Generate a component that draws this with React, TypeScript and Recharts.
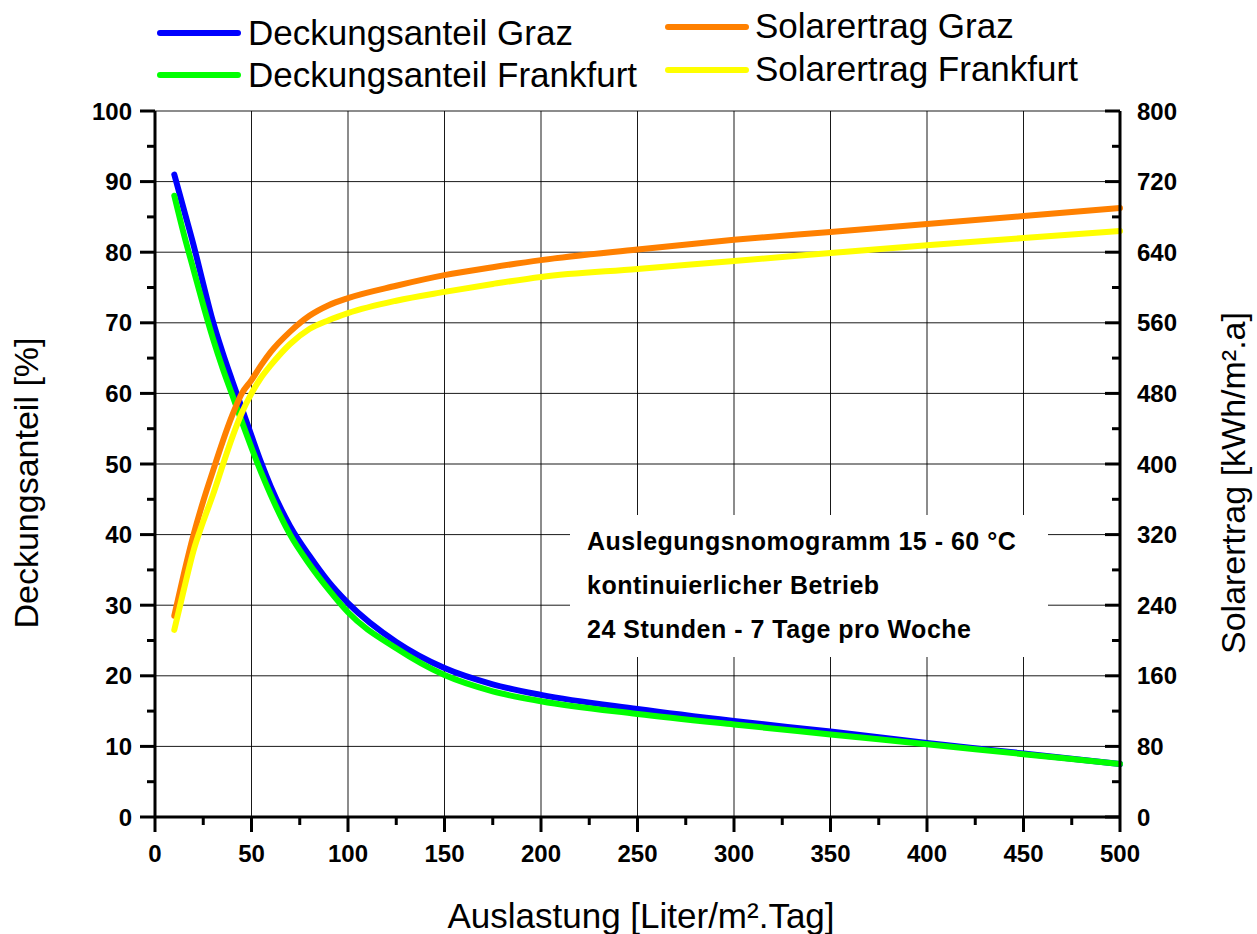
import React from 'react';
import { LineChart, Line, XAxis, YAxis, CartesianGrid } from 'recharts';

// Auslastung [Liter/m².Tag]
const xValues = [10, 15, 20, 25, 30, 35, 40, 45, 50, 55, 60, 70, 80, 90, 100, 125, 150, 175, 200, 250, 300, 350, 400, 450, 500];
// Deckungsanteil [%]
const deckungGraz = [91, 86, 81, 75.5, 70.2, 65.8, 61.8, 57.9, 54, 50.2, 46.8, 41.2, 37, 33.3, 30.3, 24.8, 21.1, 18.8, 17.3, 15.3, 13.6, 12.1, 10.5, 9.0, 7.5];
const deckungFrankfurt = [88, 82.5, 77.5, 72.5, 67.8, 63.6, 59.8, 56, 52.3, 48.8, 45.6, 40, 35.8, 32.2, 29, 23.9, 20.1, 17.8, 16.4, 14.6, 13.1, 11.7, 10.3, 8.9, 7.5];
// Solarertrag [kWh/m².a]
const solarGraz = [228, 276, 320, 358, 392, 425, 455, 480, 495, 512, 527, 550, 568, 580, 588, 602, 614, 623, 631, 643, 654, 663, 672, 681, 690];
const solarFrankfurt = [212, 258, 302, 335, 365, 398, 430, 458, 480, 498, 512, 536, 553, 563, 571, 585, 595, 604, 612, 621, 630, 639, 648, 656, 664];

const xTicks = [0, 25, 50, 75, 100, 125, 150, 175, 200, 225, 250, 275, 300, 325, 350, 375, 400, 425, 450, 475, 500];
const xMajor = [0, 50, 100, 150, 200, 250, 300, 350, 400, 450, 500];
const leftTicks = [0, 5, 10, 15, 20, 25, 30, 35, 40, 45, 50, 55, 60, 65, 70, 75, 80, 85, 90, 95, 100];
const leftMajor = [0, 10, 20, 30, 40, 50, 60, 70, 80, 90, 100];
const rightTicks = [0, 40, 80, 120, 160, 200, 240, 280, 320, 360, 400, 440, 480, 520, 560, 600, 640, 680, 720, 760, 800];

const seriesNames = ['Deckungsanteil Graz', 'Deckungsanteil Frankfurt', 'Solarertrag Graz', 'Solarertrag Frankfurt'];
const seriesColors = ['#0000ff', '#00ff00', '#ff8000', '#ffff00'];
const noteLines = ['Auslegungsnomogramm 15 - 60 °C', 'kontinuierlicher Betrieb', '24 Stunden - 7 Tage pro Woche'];

const data = xValues.map((x, i) => ({
  x,
  dg: deckungGraz[i],
  df: deckungFrankfurt[i],
  sg: solarGraz[i],
  sf: solarFrankfurt[i],
}));

const FONT = '"Liberation Sans", Arial, sans-serif';

const LeftTick = (props: any) => {
  const { x, y, payload } = props;
  const v = payload.value;
  const major = v % 10 === 0;
  return (
    <g>
      <line x1={x - (major ? 15 : 8)} x2={x} y1={y} y2={y} stroke="#000" strokeWidth={3} />
      {major && (
        <text x={x - 23} y={y + 8.5} textAnchor="end" fontFamily={FONT} fontWeight="bold" fontSize={24} fill="#000">
          {v}
        </text>
      )}
    </g>
  );
};

const RightTick = (props: any) => {
  const { x, y, payload } = props;
  const v = payload.value;
  const major = v % 80 === 0;
  return (
    <g>
      <line x1={x - (major ? 15 : 8)} x2={x} y1={y} y2={y} stroke="#000" strokeWidth={3} />
      {major && (
        <text x={x + 17} y={y + 8.5} textAnchor="start" fontFamily={FONT} fontWeight="bold" fontSize={24} fill="#000">
          {v}
        </text>
      )}
    </g>
  );
};

const BottomTick = (props: any) => {
  const { x, y, payload } = props;
  const v = payload.value;
  const major = v % 50 === 0;
  return (
    <g>
      <line x1={x} x2={x} y1={y} y2={y + (major ? 15 : 8)} stroke="#000" strokeWidth={3} />
      {major && (
        <text x={x} y={y + 45} textAnchor="middle" fontFamily={FONT} fontWeight="bold" fontSize={24} fill="#000">
          {v}
        </text>
      )}
    </g>
  );
};

const legendItems = [
  { x: 160, y: 33, tx: 248, ty: 45 },
  { x: 160, y: 75, tx: 248, ty: 87 },
  { x: 668, y: 27, tx: 755, ty: 38 },
  { x: 668, y: 70, tx: 755, ty: 81 },
];

export default function App() {
  return (
    <div style={{ position: 'absolute', left: 0, top: 0, width: 1257, height: 934, overflow: 'hidden', background: '#fff' }}>
      <LineChart
        width={1257}
        height={934}
        data={data}
        margin={{ top: 111, right: 77, bottom: 77, left: 95 }}
      >
        <CartesianGrid
          yAxisId="left"
          horizontalValues={leftMajor}
          verticalValues={xMajor}
          stroke="#000"
          strokeWidth={1}
          strokeOpacity={0.9}
        />
        <XAxis
          dataKey="x"
          type="number"
          domain={[0, 500]}
          ticks={xTicks}
          interval={0}
          height={40}
          tickSize={0}
          tickMargin={0}
          tickLine={false}
          tick={<BottomTick />}
          axisLine={{ stroke: '#000', strokeWidth: 3 }}
        />
        <YAxis
          yAxisId="left"
          orientation="left"
          type="number"
          domain={[0, 100]}
          ticks={leftTicks}
          interval={0}
          width={60}
          tickSize={0}
          tickMargin={0}
          tickLine={false}
          tick={<LeftTick />}
          axisLine={{ stroke: '#000', strokeWidth: 3 }}
        />
        <YAxis
          yAxisId="right"
          orientation="right"
          type="number"
          domain={[0, 800]}
          ticks={rightTicks}
          interval={0}
          width={60}
          tickSize={0}
          tickMargin={0}
          tickLine={false}
          tick={<RightTick />}
          axisLine={{ stroke: '#000', strokeWidth: 3 }}
        />
        <Line yAxisId="left" dataKey="dg" type="monotone" stroke={seriesColors[0]} strokeWidth={6} strokeLinecap="round" dot={false} isAnimationActive={false} />
        <Line yAxisId="left" dataKey="df" type="monotone" stroke={seriesColors[1]} strokeWidth={6} strokeLinecap="round" dot={false} isAnimationActive={false} />
        <Line yAxisId="right" dataKey="sg" type="monotone" stroke={seriesColors[2]} strokeWidth={6} strokeLinecap="round" dot={false} isAnimationActive={false} />
        <Line yAxisId="right" dataKey="sf" type="monotone" stroke={seriesColors[3]} strokeWidth={6} strokeLinecap="round" dot={false} isAnimationActive={false} />
      </LineChart>
      <svg
        width={1257}
        height={934}
        style={{ position: 'absolute', left: 0, top: 0, pointerEvents: 'none' }}
      >
        {legendItems.map((it, i) => (
          <g key={i}>
            <line x1={it.x} x2={it.x + 78} y1={it.y} y2={it.y} stroke={seriesColors[i]} strokeWidth={6} strokeLinecap="round" />
            <text x={it.tx} y={it.ty} fontFamily={FONT} fontSize={35} fill="#000">{seriesNames[i]}</text>
          </g>
        ))}
        <text x={38} y={483} transform="rotate(-90, 38, 483)" textAnchor="middle" fontFamily={FONT} fontSize={34} fill="#000">
          Deckungsanteil [%]
        </text>
        <text x={1245} y={483} transform="rotate(-90, 1245, 483)" textAnchor="middle" fontFamily={FONT} fontSize={34} fill="#000">
          Solarertrag [kWh/m².a]
        </text>
        <text x={641} y={928} textAnchor="middle" fontFamily={FONT} fontSize={35} fill="#000">
          Auslastung [Liter/m².Tag]
        </text>
        <rect x={570} y={515} width={478} height={142} fill="#fff" />
        {noteLines.map((t, i) => (
          <text key={i} x={587} y={550 + i * 44} fontFamily={FONT} fontWeight="bold" fontSize={25} letterSpacing={0.5} fill="#000">
            {t}
          </text>
        ))}
      </svg>
    </div>
  );
}
